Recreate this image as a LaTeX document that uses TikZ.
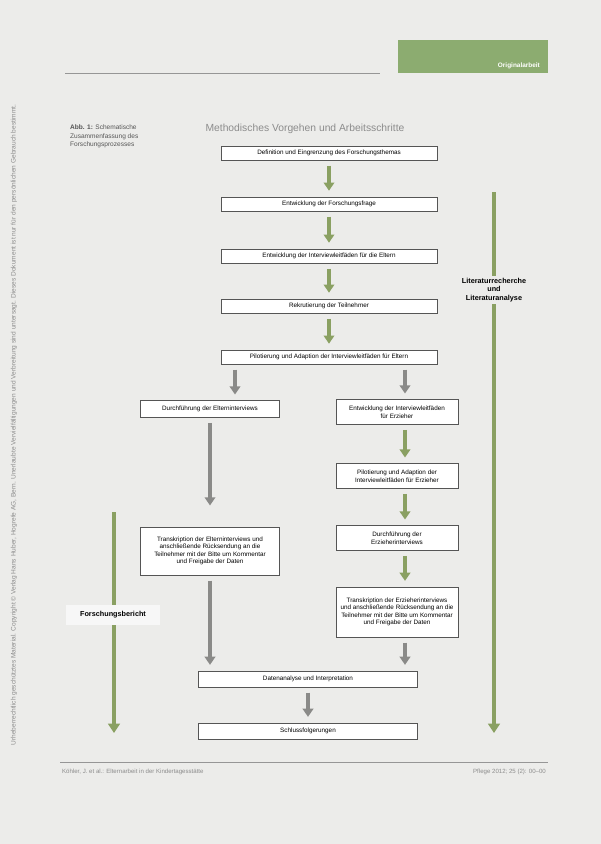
\documentclass[tikz,border=0pt]{standalone}
\usepackage{fontspec}
\setmainfont{Liberation Sans}
\usetikzlibrary{arrows.meta}
\definecolor{pagebg}{RGB}{236,236,234}
\definecolor{olive}{RGB}{138,160,98}
\definecolor{arrgray}{RGB}{138,138,136}
\definecolor{tabgreen}{RGB}{140,172,112}
\definecolor{boxline}{RGB}{85,85,85}
\definecolor{titlegray}{RGB}{140,140,140}
\definecolor{lightgray}{RGB}{150,150,150}
\begin{document}
\begin{tikzpicture}[x=0.03cm,y=-0.03cm,
  box/.style={draw=boxline,line width=.45pt,fill=white,align=center,inner sep=1pt,
    font=\fontsize{5.4}{6.4}\selectfont},
  widebox/.style={box,minimum width=6.48cm,minimum height=.43cm},
  leftbox/.style={box,minimum width=4.17cm,minimum height=.5cm},
  rightbox/.style={box,minimum width=3.66cm,minimum height=.74cm},
  baseline/.style={box,minimum width=6.57cm,minimum height=.48cm},
  greenarrow/.style={draw=olive,line width=3.4pt,-{Triangle[width=9pt,length=7pt]},shorten <=4.5pt,shorten >=5pt},
  grayarrow/.style={greenarrow,draw=arrgray},
  longarrow/.style={draw=olive,line width=4pt,-{Triangle[width=10pt,length=8pt]}},
  sidelabel/.style={align=center,font=\fontsize{6.2}{7.4}\selectfont\bfseries}]

\fill[pagebg] (0,0) rectangle (601,844);
\useasboundingbox (0,0) rectangle (601,844);

\draw[lightgray,line width=.5pt] (65,73) -- (380,73);
\fill[tabgreen] (398,40) rectangle (548,73);
\node[anchor=east,text=white,font=\fontsize{5.5}{6.5}\selectfont\bfseries](tab)at(544,66){Originalarbeit};

\node[anchor=north west,align=left,text=boxline,font=\fontsize{5.6}{7}\selectfont](caption)at(66,121)
  {\textbf{Abb. 1:} Schematische\\Zusammenfassung des\\Forschungsprozesses};
\node[text=titlegray,font=\fontsize{8.8}{10}\selectfont](title)at(305,129){Methodisches Vorgehen und Arbeitsschritte};

\node[widebox](b1)at(329,153){Definition und Eingrenzung des Forschungsthemas};
\node[widebox](b2)at(329,204){Entwicklung der Forschungsfrage};
\node[widebox](b3)at(329,256){Entwicklung der Interviewleitfäden für die Eltern};
\node[widebox](b4)at(329,306){Rekrutierung der Teilnehmer};
\node[widebox](b5)at(329,357){Pilotierung und Adaption der Interviewleitfäden für Eltern};

\node[leftbox](e1)at(210,409){Durchführung der Elterninterviews};
\node[leftbox,minimum height=1.45cm](e2)at(210,551){Transkription der Elterninterviews und\\anschließende Rücksendung an die\\Teilnehmer mit der Bitte um Kommentar\\und Freigabe der Daten};

\node[rightbox](z1)at(397,412){Entwicklung der Interviewleitfäden\\für Erzieher};
\node[rightbox](z2)at(397,476){Pilotierung und Adaption der\\Interviewleitfäden für Erzieher};
\node[rightbox](z3)at(397,538){Durchführung der\\Erzieherinterviews};
\node[rightbox,minimum height=1.5cm](z4)at(397,612){Transkription der Erzieherinterviews\\und anschließende Rücksendung an die\\Teilnehmer mit der Bitte um Kommentar\\und Freigabe der Daten};

\node[baseline](d1)at(308,679){Datenanalyse und Interpretation};
\node[baseline](d2)at(308,731){Schlussfolgerungen};

\coordinate (colL) at (235,0);
\coordinate (colR) at (405,0);

\draw[greenarrow] (b1) -- (b2);
\draw[greenarrow] (b2) -- (b3);
\draw[greenarrow] (b3) -- (b4);
\draw[greenarrow] (b4) -- (b5);
\draw[grayarrow] (b5.south -| colL) -- (e1.north -| colL);
\draw[grayarrow] (b5.south -| colR) -- (z1.north -| colR);
\draw[greenarrow] (z1.south -| colR) -- (z2.north -| colR);
\draw[greenarrow] (z2.south -| colR) -- (z3.north -| colR);
\draw[greenarrow] (z3.south -| colR) -- (z4.north -| colR);
\draw[grayarrow] (z4.south -| colR) -- (d1.north -| colR);
\draw[grayarrow,shorten >=18pt] (e1) -- (e2);
\draw[grayarrow] (e2) -- (e2 |- d1.north);
\draw[grayarrow] (d1) -- (d2);

\coordinate (litS) at (494,192);
\coordinate (litE) at (494,733);
\draw[longarrow] (litS) -- (litE);
\node[sidelabel,fill=pagebg,inner sep=1.5pt](lit)at(494,290){Literaturrecherche\\und\\Literaturanalyse};

\coordinate (berS) at (114,512);
\coordinate (berE) at (114,733);
\draw[longarrow] (berS) -- (berE);
\node[sidelabel,fill=white!60!pagebg,minimum width=2.8cm,minimum height=.6cm](ber)at(113,615){Forschungsbericht};

\draw[lightgray,line width=.5pt] (60,762) -- (548,762);
\node[anchor=west,text=titlegray,font=\fontsize{5.2}{6}\selectfont](footL)at(58,772){Köhler, J. et al.: Elternarbeit in der Kindertagesstätte};
\node[anchor=east,text=titlegray,font=\fontsize{5.2}{6}\selectfont](footR)at(550,772){Pflege 2012; 25 (2): 00–00};
\node[rotate=90,text=titlegray,font=\fontsize{5.6}{6.5}\selectfont](side)at(14,425)
  {Urheberrechtlich geschütztes Material. Copyright © Verlag Hans Huber, Hogrefe AG, Bern. Unerlaubte Vervielfältigungen und Verbreitung sind untersagt. Dieses Dokument ist nur für den persönlichen Gebrauch bestimmt.};

\end{tikzpicture}
\end{document}
